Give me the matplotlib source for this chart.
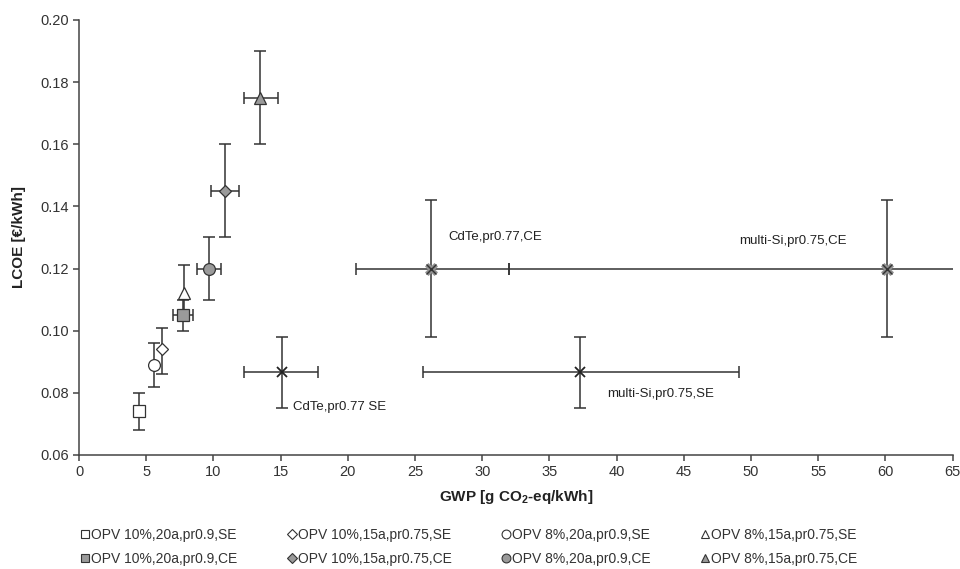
import matplotlib
matplotlib.use("Agg")
import matplotlib.pyplot as plt
from matplotlib.lines import Line2D

plt.rcParams['font.family'] = ['Liberation Sans', 'DejaVu Sans']

# OPV data (SE = open markers, CE = gray filled markers)
opv_labels = ["OPV 10%,20a,pr0.9,SE", "OPV 10%,20a,pr0.9,CE",
              "OPV 10%,15a,pr0.75,SE", "OPV 10%,15a,pr0.75,CE",
              "OPV 8%,20a,pr0.9,SE", "OPV 8%,20a,pr0.9,CE",
              "OPV 8%,15a,pr0.75,SE", "OPV 8%,15a,pr0.75,CE"]
opv_markers = ["s", "s", "D", "D", "o", "o", "^", "^"]
opv_filled = [False, True, False, True, False, True, False, True]
opv_gwp = [4.5, 7.7, 6.2, 10.85, 5.6, 9.7, 7.8, 13.5]
opv_gwp_lo = [4.5, 7.0, 6.2, 9.8, 5.6, 8.8, 7.8, 12.3]
opv_gwp_hi = [4.5, 8.5, 6.2, 11.9, 5.6, 10.6, 7.8, 14.8]
opv_lcoe = [0.074, 0.105, 0.094, 0.145, 0.089, 0.120, 0.112, 0.175]
opv_lcoe_lo = [0.068, 0.100, 0.086, 0.130, 0.082, 0.110, 0.105, 0.160]
opv_lcoe_hi = [0.080, 0.110, 0.101, 0.160, 0.096, 0.130, 0.121, 0.190]

# Conventional PV data
pv_labels = ["CdTe,pr0.77 SE", "multi-Si,pr0.75,SE", "CdTe,pr0.77,CE", "multi-Si,pr0.75,CE"]
pv_filled = [False, False, True, True]
pv_gwp = [15.1, 37.3, 26.2, 60.1]
pv_gwp_lo = [12.3, 25.6, 20.6, 32.0]
pv_gwp_hi = [17.8, 49.1, 32.0, 72.0]
pv_lcoe = [0.0867, 0.0867, 0.120, 0.120]
pv_lcoe_lo = [0.075, 0.075, 0.098, 0.098]
pv_lcoe_hi = [0.098, 0.098, 0.142, 0.142]
pv_text_x = [15.9, 39.3, 27.5, 49.1]
pv_text_y = [0.0755, 0.0795, 0.1300, 0.1290]

fig = plt.figure(figsize=(9.6, 5.69), dpi=100)
ax = fig.add_axes([0.0823, 0.2004, 0.9101, 0.7645])

ecol = "#333333"
gray = "#9a9a9a"

for i in range(len(pv_gwp)):
    x, y = pv_gwp[i], pv_lcoe[i]
    ax.errorbar([x], [y],
                xerr=[[x - pv_gwp_lo[i]], [pv_gwp_hi[i] - x]],
                yerr=[[y - pv_lcoe_lo[i]], [pv_lcoe_hi[i] - y]],
                fmt="none", ecolor=ecol, elinewidth=1.1, capsize=4.5, capthick=1.1, zorder=2)
    if pv_filled[i]:
        ax.plot([x], [y], marker="X", markersize=8, markerfacecolor="#8a8a8a",
                markeredgecolor="#9a9a9a", markeredgewidth=0.6, linestyle="none", zorder=3)
        ax.plot([x], [y], marker="x", markersize=6.5, color="#333333",
                markeredgewidth=1.0, linestyle="none", zorder=3.5)
    else:
        ax.plot([x], [y], marker="x", markersize=6.5, color="#222222",
                markeredgewidth=1.3, linestyle="none", zorder=3)
    ax.text(pv_text_x[i], pv_text_y[i], pv_labels[i], fontsize=9.5, color="#222222",
            va="center", ha="left")

handles = []
for i in range(len(opv_gwp)):
    x, y = opv_gwp[i], opv_lcoe[i]
    xerr = None
    if opv_gwp_hi[i] > opv_gwp_lo[i]:
        xerr = [[x - opv_gwp_lo[i]], [opv_gwp_hi[i] - x]]
    ax.errorbar([x], [y], xerr=xerr,
                yerr=[[y - opv_lcoe_lo[i]], [opv_lcoe_hi[i] - y]],
                fmt="none", ecolor=ecol, elinewidth=1.1, capsize=4.5, capthick=1.1, zorder=2)
    fc = gray if opv_filled[i] else "white"
    ms = {"s": 8.5, "D": 6.5, "o": 8.5, "^": 8.5}[opv_markers[i]]
    ax.plot([x], [y], marker=opv_markers[i], markersize=ms, markerfacecolor=fc,
            markeredgecolor="#333333", markeredgewidth=0.9, linestyle="none", zorder=4)
    handles.append(Line2D([], [], marker=opv_markers[i], markersize=ms * 0.75,
                          markerfacecolor=fc, markeredgecolor="#333333",
                          markeredgewidth=0.8, linestyle="none", label=opv_labels[i]))

ax.set_xlim(0, 65)
ax.set_ylim(0.06, 0.20)
ax.set_xticks(range(0, 66, 5))
ax.set_yticks([0.06, 0.08, 0.10, 0.12, 0.14, 0.16, 0.18, 0.20])
ax.set_yticklabels([f"{v:.2f}" for v in [0.06, 0.08, 0.10, 0.12, 0.14, 0.16, 0.18, 0.20]])
for s in ["top", "right"]:
    ax.spines[s].set_visible(False)
for s in ["left", "bottom"]:
    ax.spines[s].set_color("#444444")
    ax.spines[s].set_linewidth(1.1)
ax.tick_params(direction="out", length=4, width=1.1, color="#444444",
               labelsize=10.5, labelcolor="#333333")

ax.set_xlabel("GWP [g CO$_\\mathregular{2}$-eq/kWh]", fontsize=11, fontweight="bold",
              color="#222222", labelpad=6)
ax.set_ylabel("LCOE [€/kWh]", fontsize=11, fontweight="bold", color="#222222", labelpad=10)

fig.legend(handles=handles, loc="lower center", ncol=4, frameon=False,
           bbox_to_anchor=(0.488, -0.016), fontsize=10, handletextpad=0.05,
           handlelength=0.8, columnspacing=3.5, labelspacing=0.7,
           labelcolor="#333333")

fig.savefig("out.png", dpi=100)
